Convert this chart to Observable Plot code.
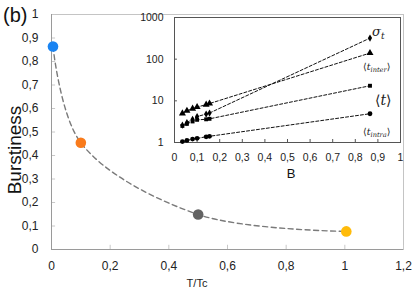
<!DOCTYPE html>
<html><head><meta charset="utf-8">
<script src="https://cdn.jsdelivr.net/npm/d3@7"></script>
<script src="https://cdn.jsdelivr.net/npm/@observablehq/plot@0.6"></script>
<style>
body{margin:0;background:#fff;}
#wrap{position:relative;width:415px;height:293px;}
#wrap svg{position:absolute;left:0;top:0;}
</style></head><body><div id="wrap"></div>
<script>
// ---- Main chart data ----
const tOverTc = [0.005, 0.1, 0.5, 1.005];
const burstiness = [0.864, 0.454, 0.149, 0.077];
const pointColors = ["#1a84f2", "#f97b1c", "#636363", "#ffbb0a"];
const mainXTicks = [0, 0.2, 0.4, 0.6, 0.8, 1, 1.2];
const mainYTicks = [0, 0.1, 0.2, 0.3, 0.4, 0.5, 0.6, 0.7, 0.8, 0.9, 1];

// ---- Inset data ----
const B = [0.035, 0.055, 0.08, 0.1, 0.14, 0.155, 0.865];
const sigmaT = [2.6, 3.0, 3.6, 4.2, 4.8, 5.1, 320];
const tInter = [5.0, 5.8, 6.5, 7.1, 8.1, 8.6, 140];
const tMean = [2.5, 2.8, 3.2, 3.5, 3.6, 3.7, 23];
const tIntra = [1.05, 1.12, 1.21, 1.26, 1.37, 1.41, 4.9];
const insetXTicks = [0, 0.1, 0.2, 0.3, 0.4, 0.5, 0.6, 0.7, 0.8, 0.9, 1];
const insetYTicks = [1, 10, 100, 1000];

const fmt = d => String(+d.toFixed(1)).replace(".", ",");
const sans = "'Liberation Sans',Arial,sans-serif";

const mainData = tOverTc.map((x, i) => ({x, y: burstiness[i], c: pointColors[i]}));

const main = Plot.plot({
  width: 415, height: 293,
  marginLeft: 51, marginRight: 12, marginTop: 14, marginBottom: 44,
  style: {fontFamily: sans, fontSize: "12px", background: "white"},
  x: {domain: [0, 1.2]},
  y: {domain: [0, 1]},
  marks: [
    Plot.frame({stroke: "#c4c4c4"}),
    Plot.ruleX(mainXTicks, {x: d => d, y1: 0, y2: 0.018, stroke: "#c8c8c8"}),
    Plot.ruleY(mainYTicks, {y: d => d, x1: 0, x2: 0.014, stroke: "#c8c8c8"}),
    Plot.ruleX([0], {stroke: "#9a9a9a"}),
    Plot.ruleY([0], {stroke: "#9a9a9a"}),
    Plot.axisX({ticks: mainXTicks, tickSize: 0, tickPadding: 12, tickFormat: fmt, label: null, fill: "#222"}),
    Plot.axisY({ticks: mainYTicks, tickSize: 0, tickPadding: 13, tickFormat: fmt, label: null, fill: "#222"}),
    Plot.line(mainData, {x: "x", y: "y", curve: "catmull-rom", stroke: "#7a7a7a", strokeWidth: 1.4, strokeDasharray: "5,3.5"}),
    Plot.dot(mainData, {x: "x", y: "y", r: 5.3, fill: "c", stroke: null})
  ]
});

const seriesList = [
  {name: "sigma", vals: sigmaT, symbol: "diamond", r: 2.2},
  {name: "inter", vals: tInter, symbol: "triangle", r: 2.6},
  {name: "mean", vals: tMean, symbol: "square", r: 2.2},
  {name: "intra", vals: tIntra, symbol: "circle", r: 2.4}
];
const rows = seriesList.flatMap(s => B.map((b, i) => ({b, v: s.vals[i], s: s.name})));

const inset = Plot.plot({
  width: 415, height: 293,
  marginLeft: 174, marginRight: 15, marginTop: 17, marginBottom: 151,
  style: {fontFamily: sans, fontSize: "10.5px", background: "transparent"},
  x: {domain: [0, 1]},
  y: {type: "log", domain: [1, 1000]},
  marks: [
    Plot.ruleX(insetXTicks, {x: d => d, y1: 1, y2: 1.18, stroke: "#555"}),
    Plot.ruleY(insetYTicks, {y: d => d, x1: 0, x2: 0.013, stroke: "#555"}),
    Plot.frame({stroke: "#555"}),
    Plot.axisX({ticks: insetXTicks, tickSize: 0, tickPadding: 11, tickFormat: fmt, label: null, fill: "#222"}),
    Plot.axisY({ticks: insetYTicks, tickSize: 0, tickPadding: 11, tickFormat: d => String(d), label: null, fill: "#222"}),
    Plot.line(rows, {x: "b", y: "v", z: "s", stroke: "#111", strokeWidth: 1, strokeDasharray: "3,2"}),
    ...seriesList.map(s => Plot.dot(rows.filter(r => r.s === s.name), {x: "b", y: "v", symbol: () => s.symbol, r: s.r, fill: "#000", stroke: null}))
  ]
});

const wrap = document.getElementById("wrap");
wrap.appendChild(main);
wrap.appendChild(inset);

// Main labels
const ms = d3.select(main);
ms.append("text").attr("x", 3).attr("y", 22).attr("text-anchor", "start").attr("font-family", sans)
  .attr("font-size", 20).attr("fill", "#111").text("(b)");
ms.append("text").attr("transform", "translate(21,150) rotate(-90)").attr("text-anchor", "middle")
  .attr("font-family", sans).attr("font-size", 19).attr("fill", "#111").text("Burstiness");
ms.append("text").attr("x", 197).attr("y", 287).attr("text-anchor", "middle")
  .attr("font-family", sans).attr("font-size", 11).attr("fill", "#222").text("T/Tc");

// Inset labels
const is = d3.select(inset);
is.append("text").attr("x", 291).attr("y", 178).attr("text-anchor", "middle")
  .attr("font-family", sans).attr("font-size", 13).attr("fill", "#111").text("B");

const serif = "'DejaVu Serif','Liberation Serif',serif";
function label(x, y, size, main, sub, brackets) {
  const t = is.append("text").attr("x", x).attr("y", y).attr("text-anchor", "start").attr("font-family", serif)
    .attr("font-size", size).attr("fill", "#222");
  if (brackets) t.append("tspan").attr("font-style", "normal").text("⟨");
  t.append("tspan").attr("font-style", "italic").text(main);
  if (sub) {
    t.append("tspan").attr("font-style", "italic").attr("font-size", size * 0.7).attr("dy", size * 0.25).text(sub);
  }
  if (brackets) t.append("tspan").attr("font-style", "normal").attr("dy", sub ? -size * 0.25 : 0).text("⟩");
}
label(372, 36, 13, "σ", "t", false);
label(363, 70, 9.5, "t", "inter", true);
label(375, 105, 14, "t", "", true);
label(363, 135, 9.5, "t", "intra", true);
</script></body></html>
